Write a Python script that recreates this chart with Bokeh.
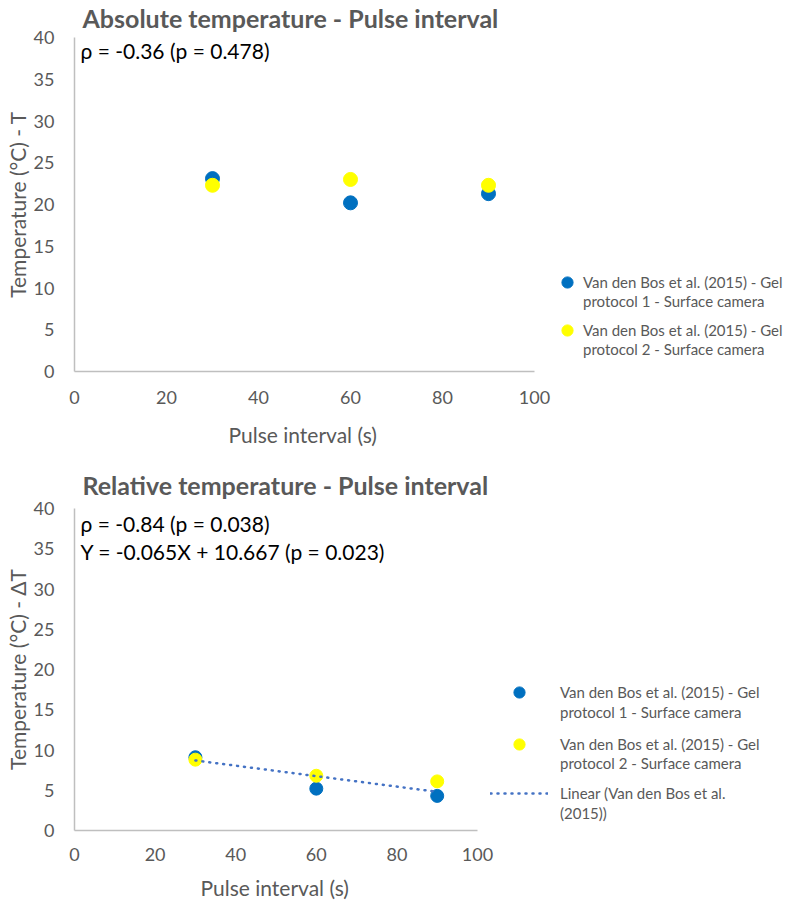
from bokeh.plotting import figure
from bokeh.layouts import column
from bokeh.models import Range1d, FixedTicker, Label, Legend, LegendItem, Title
from bokeh.core.properties import value
from bokeh.embed import file_html
from bokeh.resources import INLINE

# ---------------- data ----------------
pulse_interval = [30, 60, 90]
abs_protocol1 = [23.1, 20.2, 21.3]
abs_protocol2 = [22.3, 23.0, 22.3]
rel_protocol1 = [9.1, 5.2, 4.3]
rel_protocol2 = [8.8, 6.8, 6.1]
trend_x = [30, 90]
trend_y = [8.7, 4.8]
x_ticks = [0, 20, 40, 60, 80, 100]
y_ticks = [0, 5, 10, 15, 20, 25, 30, 35, 40]

series1_lines = ["Van den Bos et al. (2015) - Gel", "protocol 1 - Surface camera"]
series2_lines = ["Van den Bos et al. (2015) - Gel", "protocol 2 - Surface camera"]
trend_lines = ["Linear (Van den Bos et al.", "(2015))"]

top_title = "Absolute temperature - Pulse interval"
bottom_title = "Relative temperature - Pulse interval"
top_ylabel = "Temperature (°C) - T"
bottom_ylabel = "Temperature (°C) - ΔT"
xlabel = "Pulse interval (s)"
top_note = ["ρ = -0.36 (p = 0.478)"]
bottom_note = ["ρ = -0.84 (p = 0.038)", "Y = -0.065X + 10.667 (p = 0.023)"]

# ---------------- style ----------------
FONT = "Lato"
GRAY = "#595959"
AXIS = "#BFBFBF"
BLUE = "#0070C0"
YELLOW = "#FFFF00"
TREND = "#4472C4"
W = 787
LEFT = 74


def spacer(h):
    return Title(text=" ", text_font_size="1px", standoff=h)


def make_fig(title, ylabel, height, px_per_100, b_top, b_bottom, top_gap,
             tick_standoff, xlabel_gap, xlabel_offset):
    x_end = 100.0 * (W - LEFT) / px_per_100
    p = figure(width=W, height=height, x_range=Range1d(0, x_end), y_range=Range1d(0, 40),
               output_backend="svg", toolbar_location=None,
               min_border_left=LEFT, min_border_right=0,
               min_border_top=b_top, min_border_bottom=b_bottom)
    p.title.text = title
    p.title.text_font = FONT
    p.title.text_font_size = "25px"
    p.title.text_font_style = "bold"
    p.title.text_color = GRAY
    p.title.align = "left"
    p.title.offset = 8
    p.title.standoff = 0
    # gap between the chart title and the plot area
    p.add_layout(spacer(top_gap), "above")
    p.outline_line_color = None
    p.background_fill_color = "white"
    p.border_fill_color = "white"
    p.xgrid.visible = False
    p.ygrid.visible = False
    p.xaxis.ticker = FixedTicker(ticks=x_ticks)
    p.yaxis.ticker = FixedTicker(ticks=y_ticks)
    p.xaxis.bounds = (0, 100)
    for ax in (p.xaxis[0], p.yaxis[0]):
        ax.axis_line_color = AXIS
        ax.axis_line_width = 1.5
        ax.major_tick_line_color = None
        ax.minor_tick_line_color = None
        ax.major_tick_out = 0
        ax.major_tick_in = 0
        ax.major_label_text_font = FONT
        ax.major_label_text_font_size = "18px"
        ax.major_label_text_color = GRAY
        ax.axis_label_text_font = FONT
        ax.axis_label_text_font_size = "21px"
        ax.axis_label_text_font_style = "normal"
        ax.axis_label_text_color = GRAY
    p.yaxis.axis_label = ylabel
    p.xaxis.major_label_standoff = tick_standoff
    p.yaxis.major_label_standoff = 20
    p.yaxis.axis_label_standoff = 1
    # x axis title, centred under the 0-100 axis
    p.add_layout(spacer(xlabel_gap), "below")
    p.add_layout(Title(text=xlabel, text_font=FONT, text_font_size="21px",
                       text_font_style="normal", text_color=GRAY, align="left",
                       offset=xlabel_offset, standoff=0), "below")
    return p


def legend_row(p, renderer, text, vx, vy, glyph_w, standoff):
    leg = Legend(items=[LegendItem(label=value(text), renderers=[renderer])],
                 location=(vx, vy), orientation="vertical",
                 glyph_width=glyph_w, glyph_height=28, label_height=28,
                 label_standoff=standoff, padding=0, margin=0, spacing=0,
                 label_text_font=FONT, label_text_font_size="15px",
                 label_text_color=GRAY, label_text_baseline="middle",
                 background_fill_alpha=0, border_line_alpha=0)
    p.add_layout(leg)


def note(p, text, x, y):
    p.add_layout(Label(x=x, y=y, text=text, text_font=FONT, text_font_size="21px",
                       text_color="black", text_align="left", text_baseline="middle"))


# ---------------- top chart ----------------
p1 = make_fig(top_title, top_ylabel, 455, 460, 37, 84, 2, 19, 10, 154)
r1a = p1.scatter(pulse_interval, abs_protocol1, size=14, fill_color=BLUE, line_color=BLUE)
r1b = p1.scatter(pulse_interval, abs_protocol2, size=14, fill_color=YELLOW, line_color=YELLOW)
blank1 = p1.scatter(x=[], y=[], size=1, fill_alpha=0, line_alpha=0)
note(p1, top_note[0], 1.3, 38.4)
legend_row(p1, r1a, series1_lines[0], 479, 75, 28, 2)
legend_row(p1, blank1, series1_lines[1], 479, 56, 28, 2)
legend_row(p1, r1b, series2_lines[0], 479, 27, 28, 2)
legend_row(p1, blank1, series2_lines[1], 479, 8, 28, 2)

# ---------------- bottom chart ----------------
p2 = make_fig(bottom_title, bottom_ylabel, 452, 403, 53, 77, 6, 17, 6, 126)
r2a = p2.scatter(pulse_interval, rel_protocol1, size=13, fill_color=BLUE, line_color=BLUE)
r2b = p2.scatter(pulse_interval, rel_protocol2, size=13, fill_color=YELLOW, line_color=YELLOW)
r2t = p2.line(trend_x, trend_y, line_color=TREND, line_width=2.5, line_dash="1 6",
              line_cap="round")
blank2 = p2.scatter(x=[], y=[], size=1, fill_alpha=0, line_alpha=0)
note(p2, bottom_note[0], 1.5, 38.1)
note(p2, bottom_note[1], 1.5, 34.7)
legend_row(p2, r2a, series1_lines[0], 416, 124, 58, 12)
legend_row(p2, blank2, series1_lines[1], 416, 104, 58, 12)
legend_row(p2, r2b, series2_lines[0], 416, 72, 58, 12)
legend_row(p2, blank2, series2_lines[1], 416, 53, 58, 12)
legend_row(p2, r2t, trend_lines[0], 416, 23, 58, 12)
legend_row(p2, blank2, trend_lines[1], 416, 3, 58, 12)

layout = column(p1, p2, spacing=0)
open("out.html", "w").write(file_html(layout, INLINE))
